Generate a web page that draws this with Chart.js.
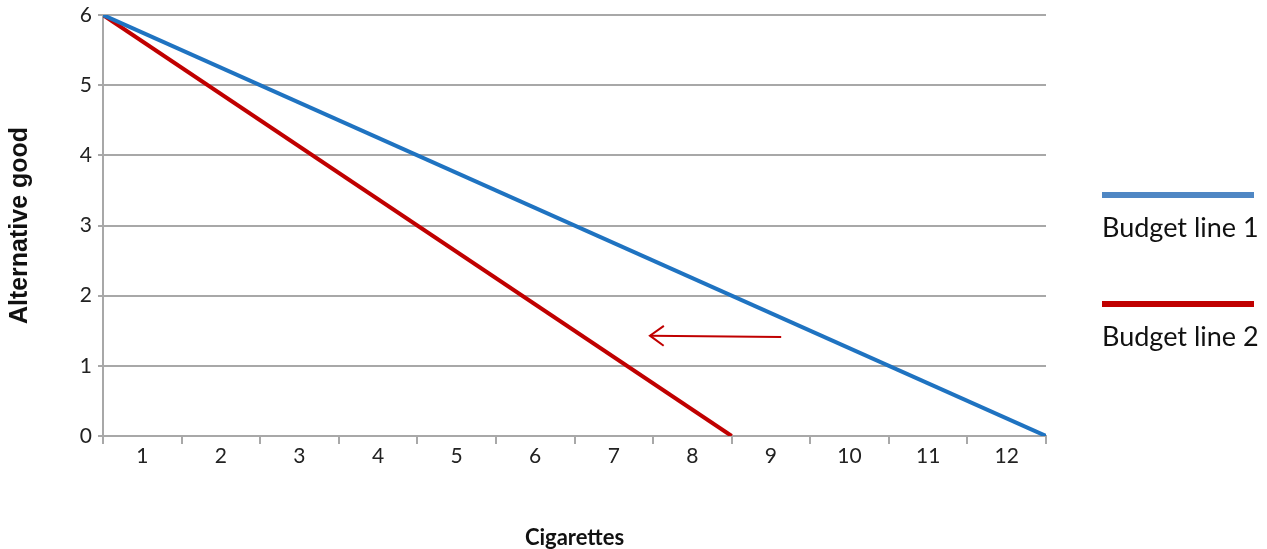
<!DOCTYPE html>
<html>
<head>
<meta charset="utf-8">
<script src="https://cdn.jsdelivr.net/npm/chart.js@4"></script>
<style>
  body { margin: 0; background: #fff; }
  #wrap { position: relative; width: 1267px; height: 549px; }
  .leg { position: absolute; left: 1102px; font-family: Lato, "Open Sans", sans-serif; font-size: 27px; line-height: 30px; color: #111; }
  .leg .bar { width: 152px; height: 6px; margin-bottom: 14px; }
</style>
</head>
<body>
<div id="wrap">
  <canvas id="myChart" width="1267" height="549"></canvas>
  <div class="leg" style="top:192px"><div class="bar" style="background:#4f87c4"></div>Budget line 1</div>
  <div class="leg" style="top:301px"><div class="bar" style="background:#c00000"></div>Budget line 2</div>
</div>
<script>
// datos de las dos rectas de presupuesto
const cigarrosLinea1 = [0, 12];
const bienLinea1 = [6, 0];
const cigarrosLinea2 = [0, 8];
const bienLinea2 = [6, 0];
// flecha (desplazamiento)
const flechaX = [8.63, 6.96];
const flechaY = [1.41, 1.43];
const etiquetasX = ["1", "2", "3", "4", "5", "6", "7", "8", "9", "10", "11", "12"];

const azul = "#1f73c1";
const rojo = "#c00000";
const gris = "#a8a8a8";

const puntos = (xs, ys) => xs.map((x, i) => ({ x: x, y: ys[i] }));

// dibuja la punta de la flecha al final del dataset de la flecha
const puntaFlecha = {
  id: "puntaFlecha",
  afterDatasetsDraw(chart) {
    const p = chart.getDatasetMeta(2).data;
    const a = p[0], b = p[1];
    const ang = Math.atan2(b.y - a.y, b.x - a.x) + Math.PI;
    const largo = 17;
    const ctx = chart.ctx;
    ctx.save();
    ctx.strokeStyle = rojo;
    ctx.lineWidth = 2;
    ctx.beginPath();
    ctx.moveTo(b.x + largo * Math.cos(ang - 0.62), b.y + largo * Math.sin(ang - 0.62));
    ctx.lineTo(b.x, b.y);
    ctx.lineTo(b.x + largo * Math.cos(ang + 0.62), b.y + largo * Math.sin(ang + 0.62));
    ctx.stroke();
    ctx.restore();
  }
};

const config = {
  type: "line",
  data: {
    datasets: [
      { label: "Budget line 1", data: puntos(cigarrosLinea1, bienLinea1), borderColor: azul, borderWidth: 4, pointRadius: 0 },
      { label: "Budget line 2", data: puntos(cigarrosLinea2, bienLinea2), borderColor: rojo, borderWidth: 4, pointRadius: 0 },
      { label: "flecha", data: puntos(flechaX, flechaY), borderColor: rojo, borderWidth: 2, pointRadius: 0 }
    ]
  },
  options: {
    responsive: false,
    animation: false,
    layout: { padding: { top: 15, right: 221, left: 0, bottom: 0 } },
    plugins: { legend: { display: false }, tooltip: { enabled: false } },
    scales: {
      x: {
        type: "linear",
        min: 0,
        max: 12,
        afterBuildTicks(scale) {
          const t = [];
          for (let v = 0; v <= 12; v += 0.5) t.push({ value: v });
          scale.ticks = t;
        },
        afterFit(scale) { scale.height = 113; },
        ticks: {
          autoSkip: false,
          maxRotation: 0,
          padding: 0,
          color: "#222",
          font: { family: "Lato, 'Open Sans', sans-serif", size: 21 },
          callback: (v) => (v % 1 ? etiquetasX[Math.floor(v)] : "")
        },
        grid: {
          drawOnChartArea: false,
          tickLength: 8,
          lineWidth: 2,
          tickColor: (c) => (c.tick && c.tick.value % 1 === 0 ? gris : "rgba(0,0,0,0)")
        },
        border: { color: gris, width: 2 },
        title: {
          display: true,
          text: "Cigarettes",
          color: "#111",
          font: { family: "Lato, 'Open Sans', sans-serif", size: 22, weight: "bold", lineHeight: 1 },
          padding: { top: 4, bottom: 0 }
        }
      },
      y: {
        min: 0,
        max: 6,
        afterFit(scale) {
          scale.width = 103;
          scale.paddingTop = 0;
          scale.paddingBottom = 0;
        },
        ticks: {
          stepSize: 1,
          padding: 6,
          color: "#222",
          font: { family: "Lato, 'Open Sans', sans-serif", size: 21 }
        },
        grid: { color: gris, lineWidth: 2, tickLength: 5 },
        border: { color: gris, width: 2 },
        title: {
          display: true,
          text: "Alternative good",
          color: "#111",
          font: { family: "'Liberation Sans', Arial, sans-serif", size: 25, weight: "bold" },
          padding: { top: 5, bottom: 4 }
        }
      }
    }
  },
  plugins: [puntaFlecha]
};

let myChart = new Chart(document.getElementById("myChart"), config);
</script>
</body>
</html>
